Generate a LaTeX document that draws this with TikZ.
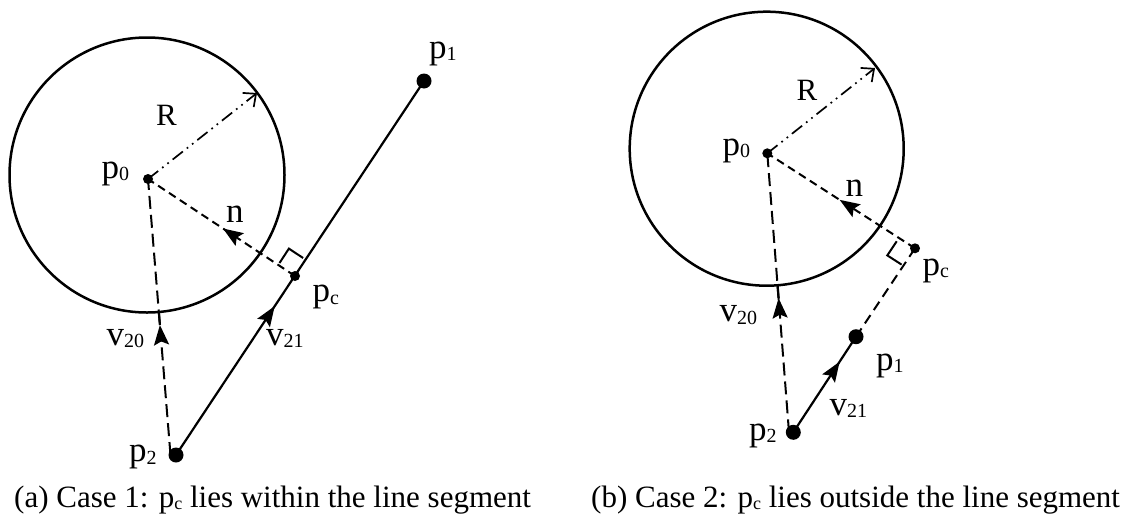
\documentclass[tikz,border=0pt]{standalone}
\usepackage{fontspec}
\setmainfont{Liberation Serif}
\usetikzlibrary{arrows.meta,decorations.markings,calc}
\newcommand\lbl[2]{#1\raisebox{-2.5pt}{\fontsize{20}{20}\selectfont #2}}
\newcommand\capsub[1]{\raisebox{-2.5pt}{\fontsize{18}{18}\selectfont #1}}
\tikzset{
  bigdot/.style={circle,fill=black,inner sep=0pt,minimum size=15pt},
  smalldot/.style={circle,fill=black,inner sep=0pt,minimum size=10pt},
  lab/.style={inner sep=0pt,anchor=base west,font=\fontsize{35}{35}\selectfont},
  rlab/.style={inner sep=0pt,anchor=base west,font=\fontsize{31}{31}\selectfont},
  caplab/.style={inner sep=0pt,anchor=base west,font=\fontsize{31}{31}\selectfont},
  circ/.style={line width=2.5pt},
  seg/.style={line width=2.2pt},
  vdash/.style={line width=2pt,dash pattern=on 13pt off 6pt},
  ndash/.style={line width=2pt,dash pattern=on 8pt off 5pt},
  edash/.style={line width=2pt,dash pattern=on 10pt off 6pt},
  rdash/.style={line width=1.7pt,dash pattern=on 13pt off 5pt on 1.7pt off 5pt on 1.7pt off 5pt,
    -{Straight Barb[length=10pt,width=18pt,line width=1.7pt]}},
  sq/.style={line width=2pt},
  midarrow/.style={postaction={decorate,decoration={markings,
    mark=at position #1 with {\arrow{Stealth[length=20pt,width=15pt,inset=3.5pt]}}}}}
}
\begin{document}
\begin{tikzpicture}[x=1pt,y=-1pt]
\useasboundingbox (0,0) rectangle (1129,517);

% ---------- Panel (a) ----------
\coordinate (a0) at (148,179);
\coordinate (ac) at (147,175);
\coordinate (a1) at (424,81);
\coordinate (a2) at (176,455);
\coordinate (a2v) at (170.5,455);
\coordinate (apc) at (295,276);
\coordinate (aR) at (257,93);

\draw[circ] (ac) circle[radius=137.5];
\draw[rdash] (a0) -- (aR);
\draw[seg, midarrow=0.398] (a2) -- (a1);
\draw[ndash, midarrow=0.49] (apc) -- (a0);
\draw[vdash, midarrow=0.471] (a2v) -- (a0);
\draw[seg] ($(a2v)!0.471!(a0)$) -- ($(a2v)!0.518!(a0)$);
\draw[sq] (303.1,258) -- (288.9,248.6) -- (279.5,263);

\node[smalldot] (a0d) at (a0) {};
\node[bigdot] (a1d) at (a1) {};
\node[bigdot] (a2d) at (a2) {};
\node[smalldot] (apcd) at (apc) {};

\node[lab] (la1) at (429,58.3) {\lbl{p}{1}};
\node[rlab] (laR) at (156,125) {R};
\node[lab] (la0) at (101.5,178.3) {\lbl{p}{0}};
\node[lab] (lan) at (226,222.7) {n};
\node[lab] (lapc) at (312.5,301.7) {\lbl{p}{c}};
\node[lab] (lav20) at (106.5,345) {\lbl{v}{20}};
\node[lab] (lav21) at (266,345) {\lbl{v}{21}};
\node[lab] (la2) at (129,461.7) {\lbl{p}{2}};

\node[caplab] (capa) at (14,507) {(a) Case 1: p\capsub{c} lies within the line segment};

% ---------- Panel (b) ----------
\coordinate (b0) at (767.3,153.3);
\coordinate (bc) at (766.7,148.7);
\coordinate (b1) at (856,336.7);
\coordinate (b2) at (793.3,432.3);
\coordinate (b2v) at (789,432.3);
\coordinate (bpc) at (915,248.3);
\coordinate (bR) at (875,68);

\draw[circ] (bc) circle[radius=137];
\draw[rdash] (b0) -- (bR);
\draw[seg, midarrow=0.74] (b2) -- (b1);
\draw[edash] (b1) -- (bpc);
\draw[ndash, midarrow=0.51] (bpc) -- (b0);
\draw[vdash, midarrow=0.481] (b2v) -- (b0);
\draw[seg] ($(b2v)!0.481!(b0)$) -- ($(b2v)!0.525!(b0)$);
\draw[sq] (901.6,264.6) -- (887.3,255.4) -- (896.7,241.3);

\node[smalldot] (b0d) at (b0) {};
\node[bigdot] (b1d) at (b1) {};
\node[bigdot] (b2d) at (b2) {};
\node[smalldot] (bpcd) at (bpc) {};

\node[rlab] (lbR) at (796.5,100) {R};
\node[lab] (lb0) at (722.5,155) {\lbl{p}{0}};
\node[lab] (lbn) at (845.5,196.7) {n};
\node[lab] (lbpc) at (922.5,275) {\lbl{p}{c}};
\node[lab] (lbv20) at (719.5,321.7) {\lbl{v}{20}};
\node[lab] (lb1) at (876,370) {\lbl{p}{1}};
\node[lab] (lbv21) at (829.5,415) {\lbl{v}{21}};
\node[lab] (lb2) at (749,440) {\lbl{p}{2}};

\node[caplab] (capb) at (591,507) {(b) Case 2: p\capsub{c} lies outside the line segment};
\end{tikzpicture}
\end{document}
